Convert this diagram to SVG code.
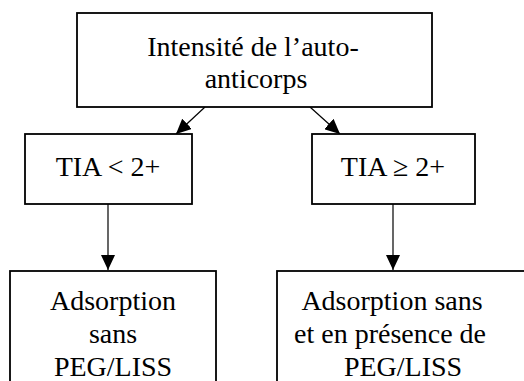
<svg xmlns="http://www.w3.org/2000/svg" width="524" height="381" viewBox="0 0 524 381">
<defs>
<style>
.box{fill:#fff;stroke:#000;stroke-width:1.8}
.t{font-family:"Liberation Serif","Times New Roman",serif;font-size:28px;fill:#000;text-anchor:middle}
.c{stroke:#000;stroke-width:1.2;fill:none}
</style>
<marker id="ah" markerUnits="userSpaceOnUse" markerWidth="15" markerHeight="14" refX="15" refY="7" orient="auto" viewBox="0 0 15 14">
<path d="M0,0 L15,7 L0,14 z" fill="#000"/>
</marker>
</defs>
<rect width="524" height="381" fill="#fff"/>
<g id="connectors">
<line class="c" x1="205" y1="107" x2="176" y2="134" marker-end="url(#ah)"/>
<line class="c" x1="310" y1="107" x2="340" y2="134" marker-end="url(#ah)"/>
<line class="c" x1="108" y1="204" x2="108" y2="270" marker-end="url(#ah)"/>
<line class="c" x1="393" y1="204" x2="393" y2="270" marker-end="url(#ah)"/>
</g>
<g id="top">
<rect class="box" x="77" y="13" width="355" height="94"/>
<text class="t" x="253" y="56">Intensité de l’auto-</text>
<text class="t" x="256" y="88">anticorps</text>
</g>
<g id="tia-low">
<rect class="box" x="25" y="134" width="167" height="70"/>
<text class="t" x="108" y="176">TIA &lt; 2+</text>
</g>
<g id="tia-high">
<rect class="box" x="312" y="134" width="163" height="70"/>
<text class="t" x="393" y="176">TIA ≥ 2+</text>
</g>
<g id="ads-low">
<rect class="box" x="10" y="271" width="206" height="130"/>
<text class="t" x="113" y="310">Adsorption</text>
<text class="t" x="113" y="343">sans</text>
<text class="t" x="113" y="376">PEG/LISS</text>
</g>
<g id="ads-high">
<rect class="box" x="277" y="271" width="260" height="130"/>
<text class="t" x="392" y="310">Adsorption sans</text>
<text class="t" x="390" y="343">et en présence de</text>
<text class="t" x="403" y="376">PEG/LISS</text>
</g>
</svg>
